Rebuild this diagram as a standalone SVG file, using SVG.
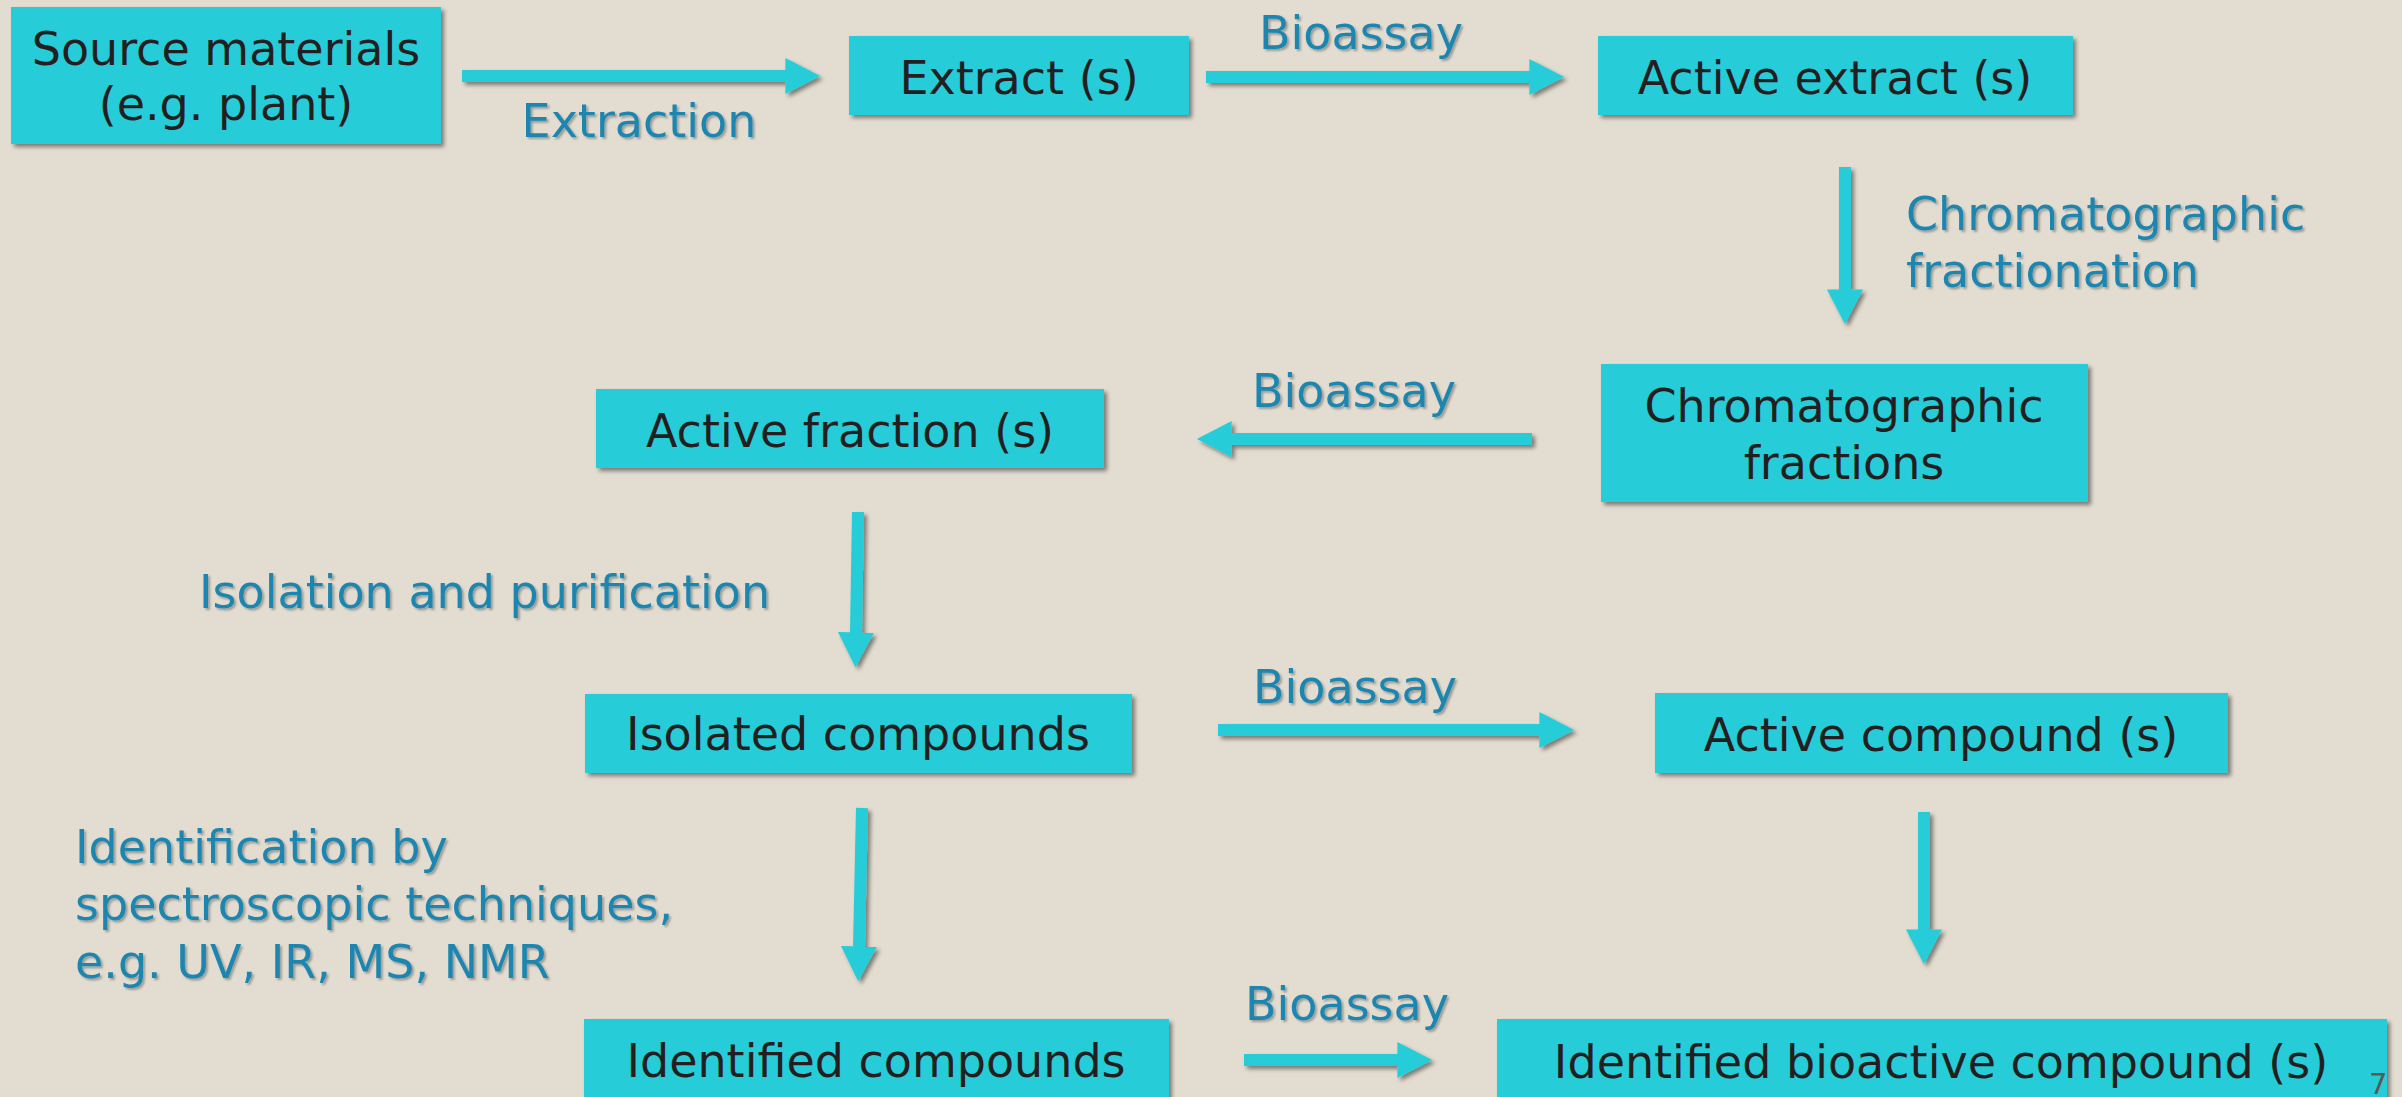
<svg xmlns="http://www.w3.org/2000/svg" width="2402" height="1097" viewBox="0 0 2402 1097">
  <style>
    .box { fill: #25cdd8; filter: url(#shadow); }
    .t { font-family: "DejaVu Sans", "Liberation Sans", sans-serif; font-size: 46px; fill: #231f20; text-anchor: middle; }
    .lbl { font-family: "DejaVu Sans", "Liberation Sans", sans-serif; font-size: 46px; fill: #1d86b0; filter: url(#tshadow); }
    .mid { text-anchor: middle; }
    .arrow { stroke: #25cdd8; stroke-width: 12; fill: none; marker-end: url(#head); }
    .pg { font-family: "DejaVu Sans", "Liberation Sans", sans-serif; font-size: 29px; fill: #595959; }
  </style>
  <defs>
    <filter id="shadow" x="-10%" y="-10%" width="125%" height="130%">
      <feDropShadow dx="3" dy="3" stdDeviation="2" flood-color="#000" flood-opacity="0.45"/>
    </filter>
    <filter id="tshadow" x="-5%" y="-20%" width="110%" height="140%">
      <feDropShadow dx="2" dy="2" stdDeviation="1" flood-color="#000" flood-opacity="0.3"/>
    </filter>
    <marker id="head" viewBox="0 0 3 3" markerUnits="strokeWidth" markerWidth="3" markerHeight="3" refX="0.05" refY="1.5" orient="auto">
      <path d="M0,0 L2.9,1.5 L0,3 z" fill="#25cdd8"/>
    </marker>
  </defs>
  <rect width="2402" height="1097" fill="#e3ddd1"/>

  <g id="connectors" filter="url(#shadow)">
    <line class="arrow" x1="462" y1="76" x2="786" y2="76"/>
    <line class="arrow" x1="1206" y1="77" x2="1530" y2="77"/>
    <line class="arrow" x1="1845" y1="167" x2="1845" y2="290"/>
    <line class="arrow" x1="1532" y1="439" x2="1231" y2="439"/>
    <line class="arrow" x1="858" y1="512" x2="856" y2="633"/>
    <line class="arrow" x1="1218" y1="730" x2="1540" y2="730"/>
    <line class="arrow" x1="1924" y1="812" x2="1924" y2="930"/>
    <line class="arrow" x1="862" y1="808" x2="859" y2="947"/>
    <line class="arrow" x1="1244" y1="1060" x2="1398" y2="1060"/>
  </g>

  <g id="labels">
    <text class="lbl mid" x="639" y="137">Extraction</text>
    <text class="lbl mid" x="1361" y="49">Bioassay</text>
    <text class="lbl" x="1906" y="230">Chromatographic</text>
    <text class="lbl" x="1906" y="287">fractionation</text>
    <text class="lbl mid" x="1354" y="407">Bioassay</text>
    <text class="lbl" x="199" y="608">Isolation and purification</text>
    <text class="lbl mid" x="1355" y="703">Bioassay</text>
    <text class="lbl" x="75" y="863">Identification by</text>
    <text class="lbl" x="75" y="920">spectroscopic techniques,</text>
    <text class="lbl" x="75" y="978">e.g. UV, IR, MS, NMR</text>
    <text class="lbl mid" x="1347" y="1020">Bioassay</text>
  </g>

  <g id="source">
    <rect class="box" x="11" y="7" width="430" height="137"/>
    <text class="t" x="226" y="65">Source materials</text>
    <text class="t" x="226" y="120">(e.g. plant)</text>
  </g>
  <g id="extract">
    <rect class="box" x="849" y="36" width="340" height="79"/>
    <text class="t" x="1019" y="94">Extract (s)</text>
  </g>
  <g id="active-extract">
    <rect class="box" x="1598" y="36" width="475" height="79"/>
    <text class="t" x="1835" y="94">Active extract (s)</text>
  </g>
  <g id="chrom-fractions">
    <rect class="box" x="1601" y="364" width="487" height="138"/>
    <text class="t" x="1844" y="422">Chromatographic</text>
    <text class="t" x="1844" y="479">fractions</text>
  </g>
  <g id="active-fraction">
    <rect class="box" x="596" y="389" width="508" height="79"/>
    <text class="t" x="850" y="447">Active fraction (s)</text>
  </g>
  <g id="isolated">
    <rect class="box" x="585" y="694" width="547" height="79"/>
    <text class="t" x="858" y="750">Isolated compounds</text>
  </g>
  <g id="active-compound">
    <rect class="box" x="1655" y="693" width="573" height="80"/>
    <text class="t" x="1941" y="751">Active compound (s)</text>
  </g>
  <g id="identified">
    <rect class="box" x="584" y="1019" width="585" height="100"/>
    <text class="t" x="876" y="1077">Identified compounds</text>
  </g>
  <g id="identified-bioactive">
    <rect class="box" x="1497" y="1019" width="890" height="100"/>
    <text class="t" x="1941" y="1078">Identified bioactive compound (s)</text>
  </g>
  <text class="pg" x="2369" y="1094">7</text>
</svg>
